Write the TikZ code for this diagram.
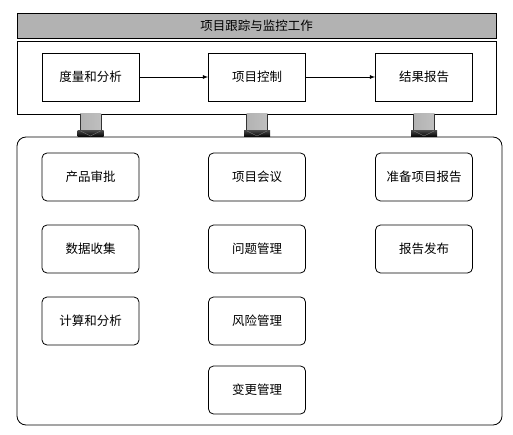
\documentclass[tikz,border=0pt]{standalone}
\usepackage{fontspec}
\setmainfont{Noto Sans CJK SC}

\begin{document}
\begin{tikzpicture}[x=1pt,y=-1pt,
  every node/.style={font=\fontsize{12.5}{15}\selectfont},
  box/.style={draw,thick,minimum width=97pt,minimum height=48pt,inner sep=0pt},
  rbox/.style={box,rounded corners=5pt}]
\useasboundingbox (0,0) rectangle (513,435);
\draw[thick,fill=gray!60] (17,13) rectangle (496,38);
\node[] at (256.5,25.5) (title) {项目跟踪与监控工作};
\draw[thick] (17,41) rectangle (496,114);
\draw[thick,rounded corners=9pt] (17,137) rectangle (502,425);
%\foreach \x in {90.5,257,424}
%  \draw (\x,114) -- (\x,137);
\foreach \x in {90.5,257,424} {
  \shade[left color=gray!60,middle color=white,right color=gray!50] (\x-10.5,114) rectangle (\x+10.5,131);
  \draw[gray!40!black] (\x-10.5,114) -- (\x-10.5,131) (\x+10.5,114) -- (\x+10.5,131);
  \shade[top color=gray!50!black,bottom color=black] (\x-13,131) rectangle (\x+13,137);
  \draw[gray] (\x-10,131) -- (\x,136) -- (\x+10,131);
}
\node[box] at (90.5,77) (measure) {度量和分析};
\node[box] at (257,77) (control) {项目控制};
\node[box] at (424,77) (report) {结果报告};
\draw[thick,-latex] (measure) -- (control);
\draw[thick,-latex] (control) -- (report);
\node[rbox] at (90.5,177) (approve) {产品审批};
\node[rbox] at (90.5,249) (collect) {数据收集};
\node[rbox] at (90.5,321) (calc) {计算和分析};
\node[rbox] at (257,177) (meeting) {项目会议};
\node[rbox] at (257,249) (issue) {问题管理};
\node[rbox] at (257,321) (risk) {风险管理};
\node[rbox] at (257,390) (change) {变更管理};
\node[rbox] at (424,177) (prepare) {准备项目报告};
\node[rbox] at (424,249) (publish) {报告发布};
\end{tikzpicture}
\end{document}
